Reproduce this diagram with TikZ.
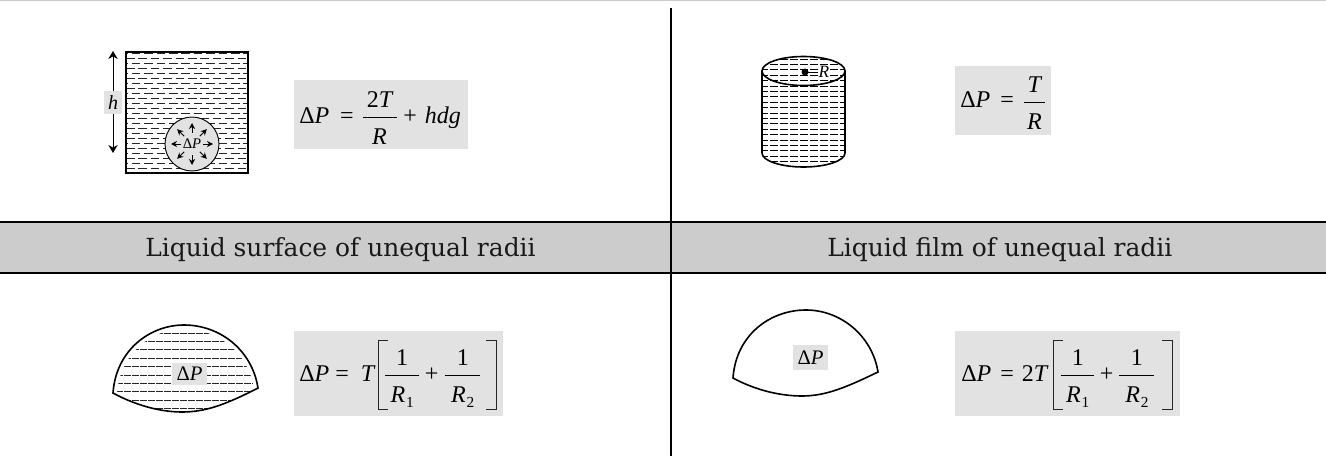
\documentclass[tikz,border=0pt]{standalone}
\usepackage{fontspec}
\setmainfont{Liberation Serif}
\newfontfamily\headfont{DejaVu Serif}
\usepackage{amsmath}
\usetikzlibrary{calc,arrows.meta}
\newcommand{\iv}[1]{\mbox{\itshape #1}}
\newcommand{\dP}{\mbox{Δ\itshape P}}
\newcommand{\up}[1]{\mbox{#1}}
\newcommand{\fr}[3]{\dfrac{\makebox[#1pt]{#2}}{\rule{0pt}{18.3pt}\makebox[#1pt]{#3}}}
\newcommand{\Rs}[1]{\mbox{\itshape R\kern.6pt\raisebox{-3.6pt}{\upshape\fontsize{11.5}{12}\selectfont #1}}}
\definecolor{eqbg}{HTML}{E2E2E2}
\definecolor{headbg}{HTML}{CCCCCC}
\tikzset{
 x=0.75pt,y=-0.75pt,
 rule/.style={line width=1.5pt,black},
 outline/.style={line width=1.2pt,black},
 liquid/.style={line width=0.6pt,black!85,dash pattern=on 6.5pt off 2.8pt},
 eqn/.style={inner sep=0pt,anchor=base west,font=\fontsize{18}{20}\selectfont,text=black},
 head/.style={anchor=base west,inner sep=0pt,font=\headfont\fontsize{18.7}{20}\selectfont,text=black!90},
 tag/.style={fill=eqbg,inner sep=0pt,text=black,font=\fontsize{15.5}{17}\selectfont},
 radial/.style={-{Stealth[length=4.5pt,width=4.5pt]},line width=.7pt},
 brk/.style={line width=.7pt,black!85}
}
\begin{document}
\begin{tikzpicture}
\useasboundingbox (0,0) rectangle (1326,456);
\fill[white] (0,0) rectangle (1326,456);
\fill[black!20] (0,0) rectangle (1326,1.5);
\fill[headbg] (0,222) rectangle (1326,273);
\draw[rule] (0,222) -- (1326,222);
\draw[rule] (0,273) -- (1326,273);
\draw[line width=1.5pt] (671,8) -- (671,456);
\node[head] (h1) at (145,256) {Liquid surface of unequal radii};
\node[head] (h2) at (827,256) {Liquid film of unequal radii};
% eq boxes
\fill[eqbg] (294,80) rectangle (468,149);
\node[eqn] (e1) at (299,123) {$\dP\kern8pt\up{=}\kern5.5pt\fr{25.5}{\up{2}\iv{T}}{\iv{R}}\kern4pt\up{+}\kern6pt\iv{hdg}$};
\fill[eqbg] (955,66) rectangle (1051,135);
\node[eqn] (e2) at (960,108) {$\dP\kern7.5pt\up{=}\kern6.3pt\fr{15.75}{\iv{T}}{\iv{R}}$};
\fill[eqbg] (294,331) rectangle (503,416);
\node[eqn] (e3) at (299,381) {$\dP\kern4.5pt\up{=}\kern9pt\iv{T}\kern7pt\fr{25.5}{\up{1}}{\Rs{1}}\kern3pt\up{+}\kern4pt\fr{26.25}{\up{1}}{\Rs{2}}$};
\draw[brk] (388,340) -- (378,340) -- (378,409) -- (388,409);
\draw[brk] (486,340) -- (496,340) -- (496,409) -- (486,409);
\fill[eqbg] (955,331) rectangle (1180,416);
\node[eqn] (e4) at (961,381) {$\dP\kern6.75pt\up{=}\kern6pt\up{2}\iv{T}\kern9.3pt\fr{24.75}{\up{1}}{\Rs{1}}\kern3pt\up{+}\kern3.3pt\fr{26.25}{\up{1}}{\Rs{2}}$};
\draw[brk] (1063,340) -- (1053,340) -- (1053,409) -- (1063,409);
\draw[brk] (1162,340) -- (1172,340) -- (1172,409) -- (1162,409);
% tank
\begin{scope}
\clip (126,52) rectangle (248,173);
\foreach \y [count=\i] in {53,58,...,172}{
  \pgfmathsetmacro{\off}{mod(\i,2)*5}
  \draw[liquid,dash phase=\off pt] (126,\y) -- (248,\y);
}
\end{scope}
\draw[line width=1pt] (126,52) rectangle (248,173);
\node[circle,draw=black,line width=.7pt,fill=eqbg,minimum size=40.5pt,inner sep=0pt] (bub) at (192,144) {};
\node[font=\fontsize{11}{12}\selectfont,inner sep=0pt] (dp) at (192,144) {\dP};
\foreach \a in {90,270,45,135,225,315}{
  \draw[radial] ($(bub)+(\a:11)$) -- ($(bub)+(\a:21)$);
}
\draw[radial] (181,144) -- (171,144);
\draw[radial] (203,144) -- (213,144);
\coordinate (ht) at (113,51);
\coordinate (hb) at (113,153);
\node[tag,font=\fontsize{15}{16}\selectfont,minimum width=13.5pt,minimum height=17pt] (hl) at (113,102.5) {\itshape h};
\draw[-{Stealth[length=6pt,width=7pt]},line width=.7pt] (hl.north) -- (ht);
\draw[-{Stealth[length=6pt,width=7pt]},line width=.7pt] (hl.south) -- (hb);
% cylinder
\begin{scope}
\clip (762,71) arc[start angle=180,end angle=360,x radius=41.5,y radius=14.5] -- (845,153) arc[start angle=0,end angle=180,x radius=41.5,y radius=14] -- cycle;
\foreach \y in {59,64.4,...,170}{ \draw[line width=.5pt,dash pattern=on 6pt off 1.5pt] (760,\y) -- (848,\y); }
\end{scope}
\node[font=\itshape\fontsize{13}{14}\selectfont,fill=white,inner sep=0pt] (rl) at (824,72) {R};
\draw[outline] (762,71) arc[start angle=180,end angle=-180,x radius=41.5,y radius=14.5];
\draw[outline] (762,71) -- (762,153) arc[start angle=180,end angle=0,x radius=41.5,y radius=14] -- (845,71);
\coordinate (cc) at (805,72);
\fill (cc) circle[radius=3.5];
\draw[line width=.7pt] (cc) -- (rl.west);
% lens 1
\begin{scope}
\clip (113,393) .. controls (116,350) and (150,325) .. (184,325) .. controls (220,325) and (252,350) .. (258,388) .. controls (225,405) and (205,412) .. (182,412) .. controls (160,412) and (135,405) .. (113,393) -- cycle;
\foreach \y in {333,341.4,...,411}{ \draw[line width=.6pt,black!85,dash pattern=on 5pt off 1pt] (100,\y) -- (270,\y);}
\draw[white,line width=6pt] (113,393) .. controls (116,350) and (150,325) .. (184,325) .. controls (220,325) and (252,350) .. (258,388);
\end{scope}
\draw[outline] (113,393) .. controls (116,350) and (150,325) .. (184,325) .. controls (220,325) and (252,350) .. (258,388) .. controls (225,405) and (205,412) .. (182,412) .. controls (160,412) and (135,405) .. (113,393) -- cycle;
\node[tag,minimum width=26.25pt,minimum height=16.5pt] (dp3) at (189.5,374) {\dP};
% lens 2
\draw[outline] (733,378) .. controls (736,335) and (770,310) .. (806,310) .. controls (840,310) and (872,335) .. (878,372) .. controls (845,388) and (825,396) .. (802,396) .. controls (780,396) and (755,390) .. (733,378) -- cycle;
\node[tag,minimum width=26.25pt,minimum height=18.75pt] (dp4) at (810.5,357.5) {\dP};
\end{tikzpicture}
\end{document}
